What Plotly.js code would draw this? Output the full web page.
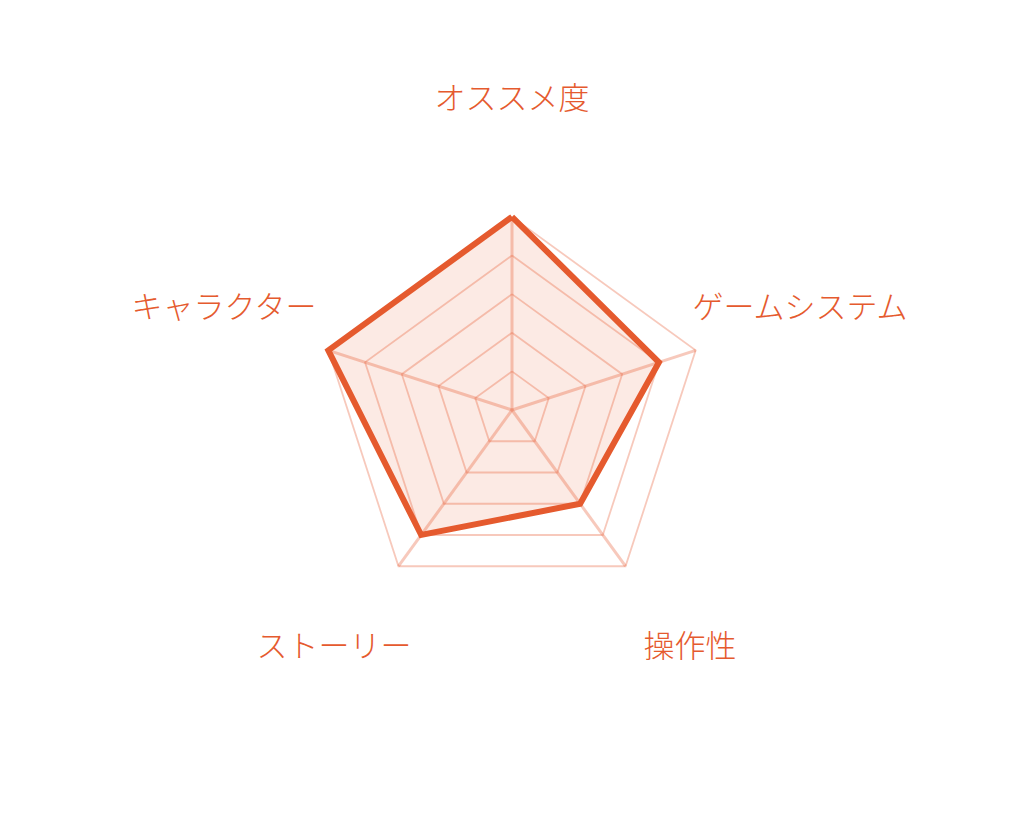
<!DOCTYPE html>
<html>
<head>
<meta charset="utf-8">
<script src="https://cdn.plot.ly/plotly-3.0.1.min.js"></script>
<style>
  html, body { margin: 0; padding: 0; background: #fff; }
  #chart { width: 1024px; height: 820px; }
</style>
</head>
<body>
<div id="chart"></div>
<script>
const categories = ["オススメ度", "ゲームシステム", "操作性", "ストーリー", "キャラクター"];
const scores = [5, 4, 3, 4, 5];
const gridLevels = [1, 2, 3, 4, 5];
const labelRadius = 8;

const accent = "#E55A2E";
const gridColor = "rgba(232, 105, 70, 0.36)";

const closed = arr => arr.concat([arr[0]]);

// grid rings
const rings = gridLevels.map(lv => ({
  type: "scatterpolar",
  r: closed(categories.map(() => lv)),
  theta: closed(categories),
  mode: "lines",
  line: { color: gridColor, width: 1.8 },
  hoverinfo: "skip",
  showlegend: false
}));

// spokes
const spokes = categories.map(c => ({
  type: "scatterpolar",
  r: [0, gridLevels[gridLevels.length - 1]],
  theta: [c, c],
  mode: "lines",
  line: { color: gridColor, width: 3 },
  hoverinfo: "skip",
  showlegend: false
}));

const scoreTrace = {
  type: "scatterpolar",
  r: closed(scores),
  theta: closed(categories),
  mode: "lines",
  fill: "toself",
  fillcolor: "rgba(229, 90, 46, 0.13)",
  line: { color: accent, width: 6 },
  showlegend: false
};

// category labels sit on a second, slightly raised polar
const labels = {
  type: "scatterpolar",
  subplot: "polar2",
  r: categories.map(() => labelRadius),
  theta: categories,
  mode: "text",
  text: categories,
  textposition: "middle center",
  cliponaxis: false,
  textfont: { family: "Noto Sans CJK JP", size: 31, weight: 300, color: accent },
  hoverinfo: "skip",
  showlegend: false
};

const hiddenAngular = {
  rotation: 90,
  direction: "clockwise",
  showticklabels: false,
  showgrid: false,
  showline: false,
  ticks: ""
};

Plotly.newPlot("chart", [...rings, ...spokes, scoreTrace, labels], {
  width: 1024,
  height: 820,
  margin: { l: 0, r: 0, t: 101, b: 101 },
  paper_bgcolor: "#fff",
  showlegend: false,
  polar: {
    domain: { x: [0, 1], y: [0, 1] },
    bgcolor: "rgba(0,0,0,0)",
    radialaxis: { visible: false, range: [0, 8] },
    angularaxis: hiddenAngular
  },
  polar2: {
    domain: { x: [0, 1], y: [0.02, 1] },
    bgcolor: "rgba(0,0,0,0)",
    radialaxis: { visible: false, range: [0, 8] },
    angularaxis: hiddenAngular
  }
}, { displayModeBar: false });
</script>
</body>
</html>
